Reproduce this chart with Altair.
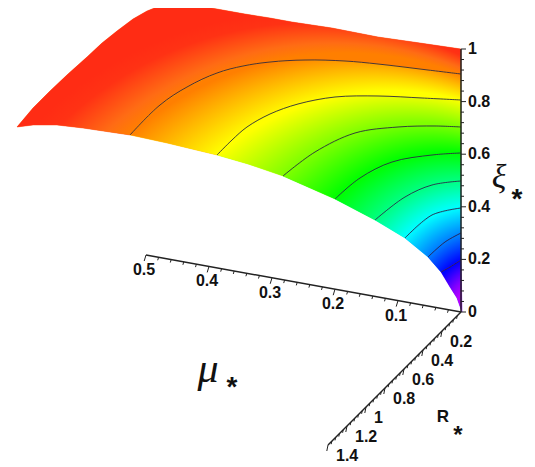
import colorsys
import numpy as np
import pandas as pd
import altair as alt

# Values (image pixel coordinates)
TOP = [(17,127),(33,108),(50,91),(68,74),(87,57),(102,43),(117,31),(133,19),(147,11),(157,7),(170,5),(190,5),(205,7),(217,9),(245,14),(270,18),(292,22),(332,28),(378,37),(420,43),(461,49)]
BOTTOM = [(17,127),(33,125),(57,125),(83,128),(130,135),(167,143),(217,155),(248,164),(283,176),(335,199),(375,220),(405,238),(428,257),(441,272),(450,287),(457,298),(462,312)]
C90 = [(130,135),(160,105),(187,87),(217,73),(243,66),(270,62),(305,60),(345,61),(378,64),(428,70),(461,74)]
C80 = [(217,155),(232,140),(247,127),(270,114),(298,104),(335,97),(378,96),(422,98),(461,100)]
C70 = [(283,176),(315,152),(355,133),(398,127),(435,126),(461,127)]
C60 = [(335,199),(360,178),(392,162),(432,155),(461,153)]
C50 = [(375,220),(405,197),(432,185),(461,181)]
C40 = [(405,238),(432,215),(461,208)]
C30 = [(428,257),(445,242),(461,233)]
C20 = [(441,272),(450,267),(461,260)]

CONTOURS = [C90, C80, C70, C60, C50, C40, C30, C20]
LEVELS = [1.0, 0.9, 0.8, 0.7, 0.6, 0.5, 0.4, 0.3, 0.2, 0.0]
# Circle approximating each colour level's arc, estimated from the curves above: (cx, cy, r)
CIRCLES = [(300,385,372),(345,377,324),(391.7,361.5,270.5),(418.8,321.7,199),(446,307,155),(465,300,119.5),(475,300,94),(480,300,68),(480,305,48),(480,312,18)]

XI_TICKS = [0, .04, .08, .12, .16, .2, .24, .28, .32, .36, .4, .44, .48, .52, .56, .6, .64, .68, .72, .76, .8, .84, .88, .92, .96, 1]
XI_LABELS = [0, .2, .4, .6, .8, 1]
MU_LABELS = [.1, .2, .3, .4, .5]
R_LABELS = [.2, .4, .6, .8, 1, 1.2, 1.4]
MU_STEPS = list(range(1, 26))
R_STEPS = list(range(1, 36))

ORIGIN = (461, 312)
XI_VEC = (0, -263)
MU_VEC = (-630, -114)
R_VEC = (-95, 95)

sx = alt.Scale(domain=[8, 527], nice=False, zero=False)
sy = alt.Scale(domain=[467, 8], nice=False, zero=False)
X = alt.X("x:Q", scale=sx, axis=None)
Y = alt.Y("y:Q", scale=sy, axis=None)


def hex_for(level):
    hue = max(min(300 * (1 - level), 282), 6) / 360
    r, g, b = colorsys.hsv_to_rgb(hue, 0.92 if level > .9 else 1, 1)
    return "#%02x%02x%02x" % (round(r * 255), round(g * 255), round(b * 255))


def table(points):
    return pd.DataFrame({"x": [q[0] for q in points], "y": [q[1] for q in points], "o": range(len(points))})


outers = [TOP] + CONTOURS
inners = CONTOURS + [[(462, 312)]]
layers = []
for k, (outer, inner) in enumerate(zip(outers, inners)):
    i = BOTTOM.index(outer[0])
    j = BOTTOM.index(inner[0])
    poly = list(outer) + list(inner[::-1]) + BOTTOM[i:j][::-1]
    if poly[-1] != poly[0]:
        poly.append(poly[0])
    xs = [q[0] for q in poly]
    ys = [q[1] for q in poly]
    w, h = max(xs) - min(xs), max(ys) - min(ys)
    S = max(w, h)
    mx, my = (max(xs) + min(xs)) / 2, (max(ys) + min(ys)) / 2
    nx = lambda v: (v - mx) / S + .5
    ny = lambda v: (v - my) / S + .5
    co, ci = CIRCLES[k], CIRCLES[k + 1]
    lo, hi = LEVELS[k + 1], LEVELS[k]
    stops = [alt.GradientStop(offset=t, color=hex_for(lo + (hi - lo) * t)) for t in (0, .25, .5, .75, 1)]
    grad = alt.RadialGradient(gradient="radial", stops=stops,
                              x1=nx(ci[0]), y1=ny(ci[1]), r1=ci[2] / S,
                              x2=nx(co[0]), y2=ny(co[1]), r2=co[2] / S)
    d = table(poly)
    base = alt.Chart(d).mark_line(fill=hex_for((lo + hi) / 2), stroke=hex_for((lo + hi) / 2), strokeWidth=.5).encode(x=X, y=Y, order="o:Q")
    top = alt.Chart(d).mark_line(fill=grad, strokeWidth=0, strokeOpacity=0).encode(x=X, y=Y, order="o:Q")
    layers += [base, top]

for c in CONTOURS:
    layers.append(alt.Chart(table(c)).mark_line(color="#2a2140", strokeWidth=1, opacity=.85, interpolate="catmull-rom").encode(x=X, y=Y, order="o:Q"))


def segs(values, vec, major, lmin, lmaj, dirx, diry):
    rows = []
    for v in values:
        px, py = ORIGIN[0] + v * vec[0], ORIGIN[1] + v * vec[1]
        l = lmaj if any(abs(v - m) < 1e-6 for m in major) else lmin
        rows.append({"x": px, "y": py, "x2": px + dirx * l, "y2": py + diry * l})
    return pd.DataFrame(rows)


AX = "#222222"
axis_lines = pd.DataFrame({"x": [ORIGIN[0]] * 3, "y": [ORIGIN[1]] * 3,
                           "x2": [ORIGIN[0] + XI_VEC[0], ORIGIN[0] + MU_VEC[0] * .5, ORIGIN[0] + R_VEC[0] * 1.4],
                           "y2": [ORIGIN[1] + XI_VEC[1], ORIGIN[1] + MU_VEC[1] * .5, ORIGIN[1] + R_VEC[1] * 1.4]})
tick_tables = [
    segs(XI_TICKS, XI_VEC, XI_LABELS, 3, 5, 1, 0),
    segs([s * .02 for s in MU_STEPS], MU_VEC, MU_LABELS, 3, 6, -.3, 1),
    segs([s * .04 for s in R_STEPS], R_VEC, R_LABELS, 3, 6, -.2, 1),
]
layers.append(alt.Chart(axis_lines).mark_rule(color=AX, strokeWidth=1.5).encode(x=X, y=Y, x2="x2:Q", y2="y2:Q"))
for t in tick_tables:
    layers.append(alt.Chart(t).mark_rule(color=AX, strokeWidth=1).encode(x=X, y=Y, x2="x2:Q", y2="y2:Q"))


def labels(values, vec, dx, dy, align):
    d = pd.DataFrame({"x": [ORIGIN[0] + v * vec[0] + dx for v in values],
                      "y": [ORIGIN[1] + v * vec[1] + dy for v in values],
                      "t": [f"{v:g}" for v in values]})
    return alt.Chart(d).mark_text(font="Liberation Sans", fontWeight="bold", fontSize=16, color="#111111", align=align, baseline="middle").encode(x=X, y=Y, text="t:N")


layers += [labels(XI_LABELS, XI_VEC, 7, 0, "left"), labels(MU_LABELS, MU_VEC, -2, 15, "center"), labels(R_LABELS, R_VEC, 8, 11, "left")]


def note(text, x, y, font, size, weight="normal", style="normal"):
    return alt.Chart(pd.DataFrame({"x": [x], "y": [y], "t": [text]})).mark_text(
        font=font, fontSize=size, fontWeight=weight, fontStyle=style, color="#111111", align="center", baseline="middle"
    ).encode(x=X, y=Y, text="t:N")


layers += [
    note("ξ", 499, 178, "Liberation Serif", 34, style="italic"),
    note("*", 517, 200, "Liberation Sans", 28, "bold"),
    note("μ", 208, 369, "Liberation Serif", 42, style="italic"),
    note("*", 232, 388, "Liberation Sans", 28, "bold"),
    note("R", 443, 417, "Liberation Sans", 17, "bold"),
    note("*", 458, 436, "Liberation Sans", 24, "bold"),
]

chart = alt.layer(*layers).properties(width=519, height=459, padding=0, autosize=alt.AutoSizeParams(type="none")).configure_view(stroke=None)
chart.save("out.html", embed_options={"renderer": "svg", "actions": False})
